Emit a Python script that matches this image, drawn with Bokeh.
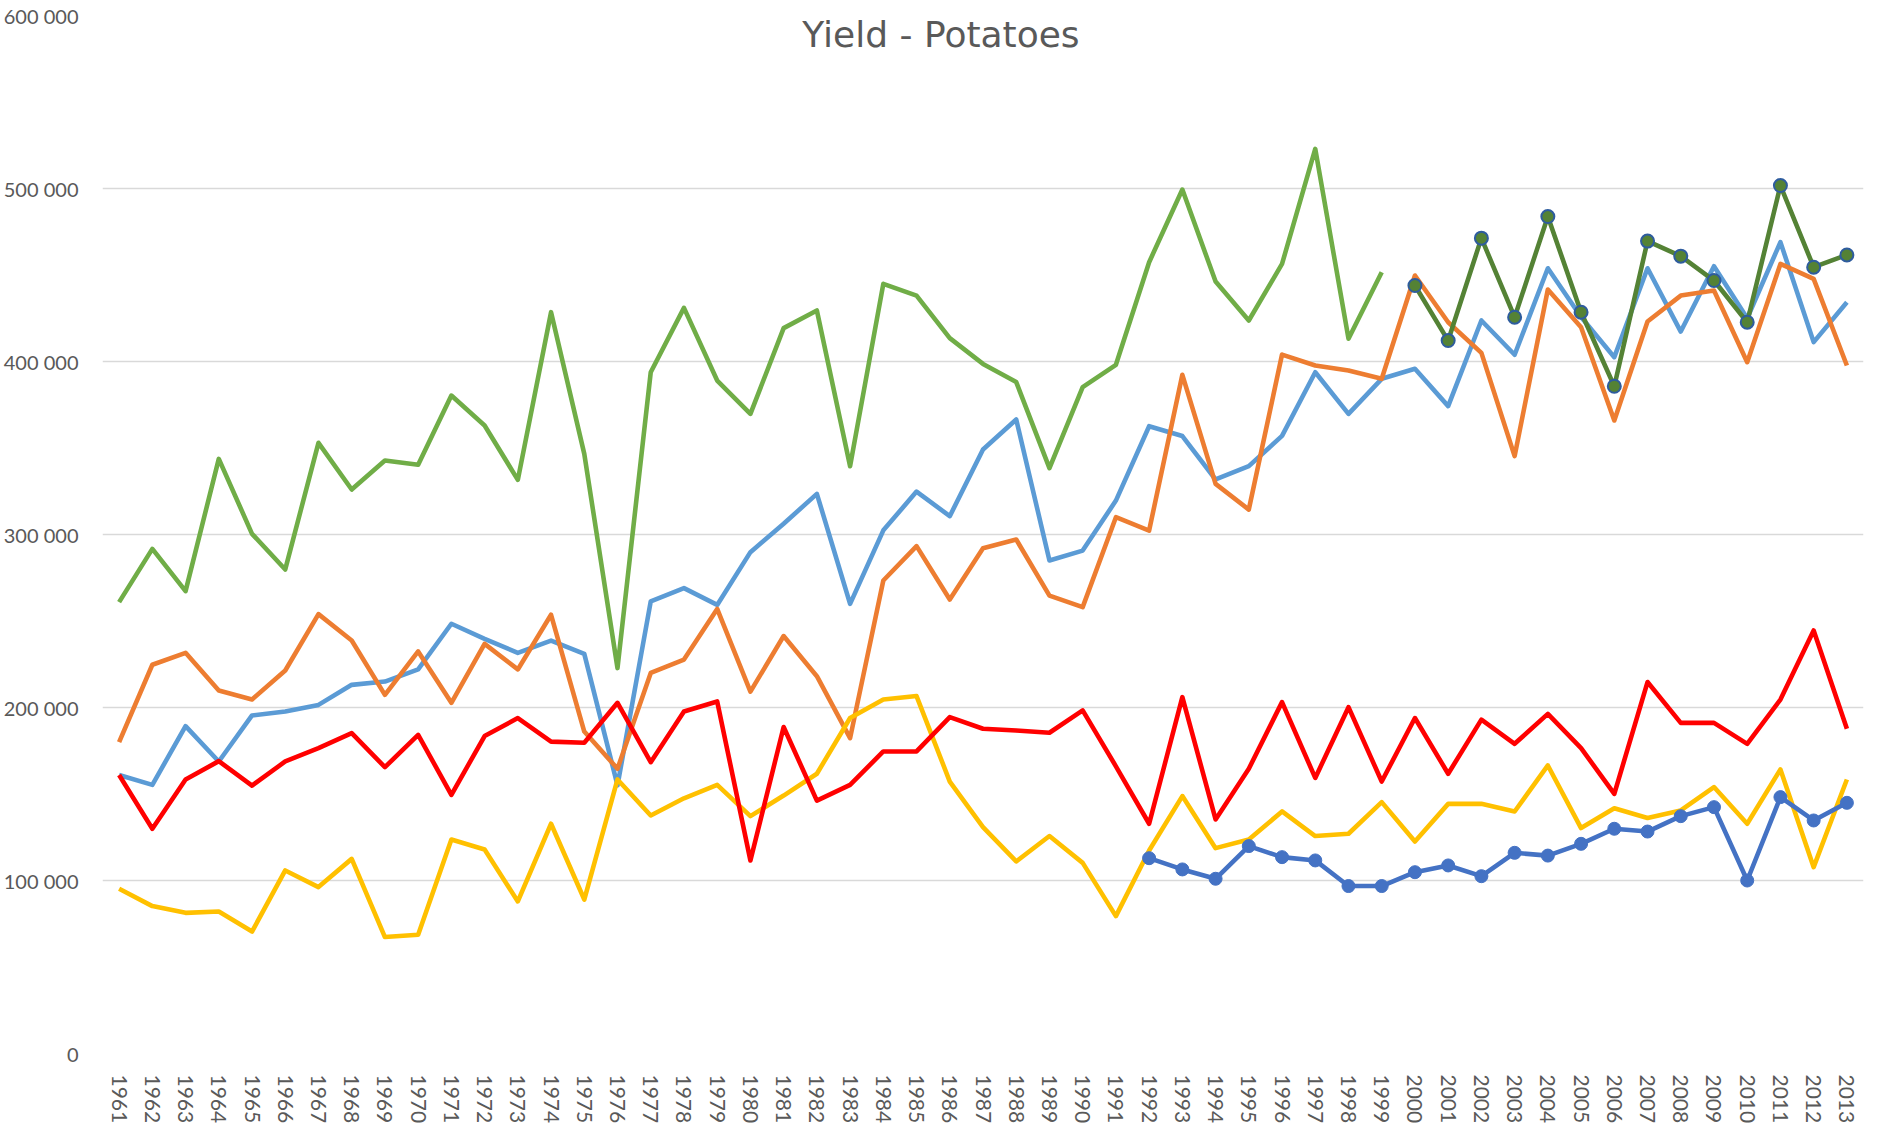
from bokeh.plotting import figure
from bokeh.models import FactorRange, Range1d, FixedTicker, CustomJSTickFormatter, Label, ColumnDataSource
from bokeh.embed import file_html
from bokeh.resources import INLINE

# ---------------- data ----------------
years = [str(y) for y in range(1961, 2014)]

y_ticks = [0, 100000, 200000, 300000, 400000, 500000, 600000]

green_years = [str(y) for y in range(1961, 2000)]
green = [260900, 291700, 267300, 343700, 300400, 279800, 353000, 326000, 342800, 340300,
         380300, 363000, 331600, 428500, 346600, 222800, 393800, 431000, 389000, 369700,
         419300, 429500, 339500, 444900, 438100, 413500, 398600, 388100, 338400, 385200,
         398100, 457400, 499400, 446200, 423700, 456400, 522900, 413200, 451600]

blue = [161000, 155300, 189200, 168800, 195400, 197700, 201500, 213100, 215000, 222000,
        248400, 239700, 231600, 238700, 231000, 155000, 261300, 269000, 259300, 289800,
        306200, 323500, 259900, 302400, 324800, 310600, 349100, 366500, 285000, 290700,
        319600, 362600, 356900, 331800, 339500, 357000, 393800, 369700, 390000, 395800,
        374200, 423700, 403900, 453900, 425700, 402500, 453900, 417300, 455100, 425000,
        469000, 411200, 434300]

orange = [180000, 224700, 231600, 209800, 204600, 221400, 254000, 238700, 207300, 232400,
          202700, 236800, 222000, 253600, 186100, 164600, 220000, 227700, 257000, 209200,
          241300, 218100, 182300, 273400, 293300, 262400, 292100, 297100, 264700, 258000,
          310000, 302300, 392300, 329300, 314400, 404000, 397700, 394800, 390000, 449700,
          422700, 405000, 345300, 441600, 419800, 365900, 423100, 438100, 441000, 399600,
          456400, 447800, 397700]

red = [161000, 129900, 158400, 169000, 154900, 168800, 176500, 185200, 165500, 184200,
       149500, 183500, 193900, 180300, 179600, 202700, 168400, 197700, 203500, 111600,
       188700, 146200, 155300, 174600, 174600, 194400, 187700, 186700, 185400, 198300,
       166000, 132800, 206000, 135300, 164600, 203100, 159300, 200200, 157200, 193900,
       161700, 193000, 179000, 196300, 176500, 150100, 214700, 191100, 191100, 179000,
       204600, 244500, 187700]

yellow = [95200, 85200, 81300, 82100, 70500, 105800, 96200, 112500, 67300, 68600,
          123700, 117900, 87900, 132800, 89000, 158400, 137600, 147500, 155300, 137200,
          149100, 161700, 193900, 204600, 206600, 157200, 130900, 111000, 125700, 110200,
          79400, 117300, 148800, 118700, 123700, 139900, 125700, 127000, 145300, 122500,
          144300, 144300, 139900, 166500, 130300, 141800, 136100, 140500, 154000, 132800,
          164200, 107700, 158400]

darkblue_years = [str(y) for y in range(1992, 2014)]
darkblue = [112900, 106400, 101000, 119900, 113500, 111600, 96800, 96800, 104800, 108700,
            102500, 116000, 114400, 121200, 129900, 128300, 137200, 142400, 100000, 148200,
            134700, 144900]

darkgreen_years = [str(y) for y in range(2000, 2014)]
darkgreen = [443900, 412100, 471300, 425600, 483800, 428500, 385700, 469600, 460900, 446800,
             422700, 501700, 454500, 461600]

title_text = "Yield - Potatoes"

# ---------------- figure ----------------
Y_MAX = 600000
FRAME_W = 1761
FRAME_H = 1038
BORDER_L = 95
PAGE_W = 1883
p = figure(x_range=FactorRange(factors=years, range_padding=0, factor_padding=0),
           y_range=Range1d(0, Y_MAX),
           frame_width=FRAME_W, frame_height=FRAME_H,
           min_border_left=BORDER_L, min_border_top=15, min_border_right=11, min_border_bottom=0,
           output_backend="svg", toolbar_location=None)

p.outline_line_color = None
p.background_fill_color = "white"
p.border_fill_color = "white"

p.xgrid.grid_line_color = None
p.ygrid.ticker = FixedTicker(ticks=y_ticks)
p.ygrid.grid_line_color = "#D9D9D9"
p.ygrid.grid_line_width = 1.5

p.yaxis.ticker = FixedTicker(ticks=y_ticks)
p.yaxis.formatter = CustomJSTickFormatter(
    code=r"return tick.toString().replace(/\B(?=(\d{3})+(?!\d))/g, ' ');")
p.yaxis.axis_line_color = None
p.yaxis.major_tick_line_color = None
p.yaxis.minor_tick_line_color = None
p.yaxis.major_label_standoff = 18
p.yaxis.major_label_text_font = "Lato"
p.yaxis.major_label_text_font_size = "20px"
p.yaxis.major_label_text_color = "#595959"

p.xaxis.axis_line_color = None
p.xaxis.major_tick_line_color = None
p.xaxis.minor_tick_line_color = None
p.xaxis.major_label_orientation = "vertical"
p.xaxis.major_label_standoff = 15
p.xaxis.major_label_text_font = "Lato"
p.xaxis.major_label_text_font_size = "21px"
p.xaxis.major_label_text_color = "#595959"

LW = 4.6
p.line(x=green_years, y=green, line_color="#70AD47", line_width=LW, line_join="round")
p.line(x=years, y=blue, line_color="#5B9BD5", line_width=LW, line_join="round")
p.line(x=years, y=orange, line_color="#ED7D31", line_width=LW, line_join="round")
p.line(x=years, y=yellow, line_color="#FFC000", line_width=LW, line_join="round")
p.line(x=years, y=red, line_color="#FF0000", line_width=LW, line_join="round")

db = ColumnDataSource(dict(x=darkblue_years, y=darkblue))
p.line(x="x", y="y", source=db, line_color="#4472C4", line_width=LW, line_join="round")
p.scatter(x="x", y="y", source=db, size=13, fill_color="#4472C4", line_color="#4472C4")

dg = ColumnDataSource(dict(x=darkgreen_years, y=darkgreen))
p.line(x="x", y="y", source=dg, line_color="#548235", line_width=LW, line_join="round")
p.scatter(x="x", y="y", source=dg, size=13, fill_color="#548235", line_color="#2E5C9E", line_width=2)

# title: centred on the whole chart width, baseline a little below the frame top
px_per_unit_y = FRAME_H / Y_MAX
px_per_unit_x = FRAME_W / len(years)
title_x = (PAGE_W / 2 - 8 - BORDER_L) / px_per_unit_x
title = Label(x=title_x, y=Y_MAX - 19 / px_per_unit_y, text=title_text, text_align="center",
              text_baseline="alphabetic", text_font="DejaVu Sans", text_font_size="36px",
              text_color="#595959")
p.add_layout(title)

open("out.html", "w").write(file_html(p, INLINE))
